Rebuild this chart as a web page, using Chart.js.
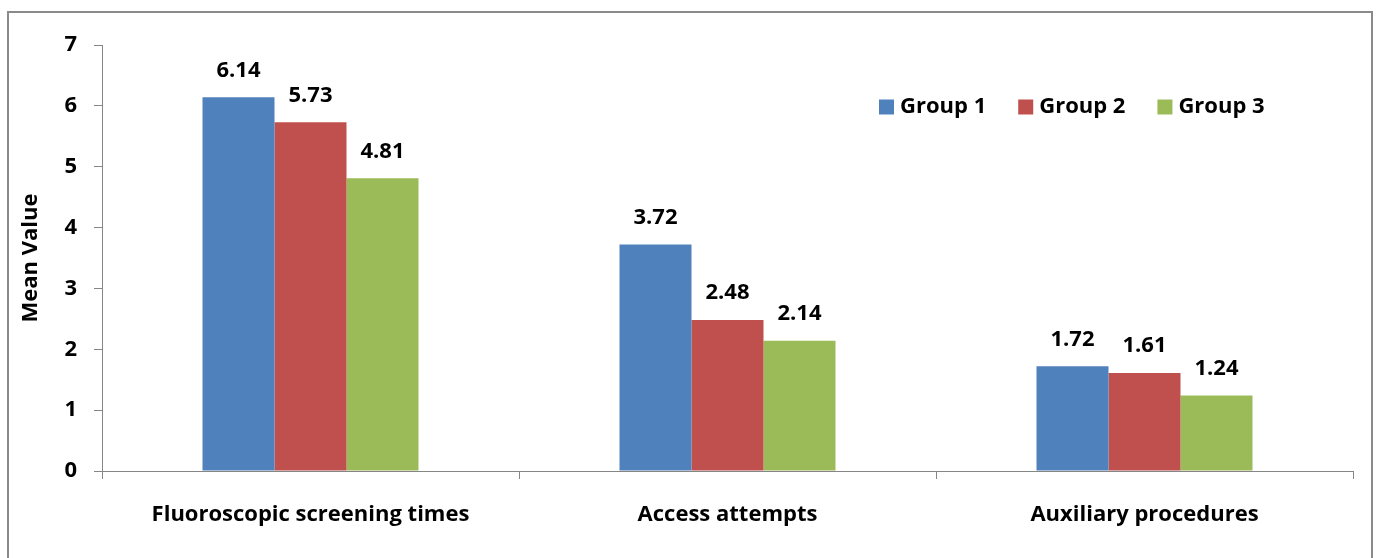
<!DOCTYPE html>
<html>
<head>
<meta charset="utf-8">
<script src="https://cdn.jsdelivr.net/npm/chart.js@4.4.1/dist/chart.umd.min.js"></script>
<style>
  html, body { margin: 0; padding: 0; background: #ffffff; }
  #wrap { width: 1379px; height: 558px; position: relative; }
</style>
</head>
<body>
<div id="wrap"><canvas id="chart" width="1379" height="558"></canvas></div>
<script>
// Mean values per measure for the three groups
const categories = ['Fluoroscopic screening times', 'Access attempts', 'Auxiliary procedures'];
const seriesNames = ['Group 1', 'Group 2', 'Group 3'];
const group1 = [6.14, 3.72, 1.72];
const group2 = [5.73, 2.48, 1.61];
const group3 = [4.81, 2.14, 1.24];
const yTicks = [0, 1, 2, 3, 4, 5, 6, 7];

const colors = ['#4F81BD', '#C0504D', '#9BBB59'];
const FONT = '"Open Sans", "Liberation Sans", sans-serif';
const FSIZE = 22;

// Outer frame around the whole chart
const framePlugin = {
  id: 'frame',
  beforeDraw(chart) {
    const ctx = chart.ctx;
    ctx.save();
    ctx.strokeStyle = '#8a8a8a';
    ctx.lineWidth = 2;
    ctx.strokeRect(8, 12, 1364, 560);
    ctx.restore();
  }
};

// Value labels above each bar
const valueLabels = {
  id: 'valueLabels',
  afterDatasetsDraw(chart) {
    const ctx = chart.ctx;
    ctx.save();
    ctx.font = 'bold ' + FSIZE + 'px ' + FONT;
    ctx.fillStyle = '#000000';
    ctx.textAlign = 'center';
    ctx.textBaseline = 'middle';
    chart.data.datasets.forEach((ds, i) => {
      const meta = chart.getDatasetMeta(i);
      meta.data.forEach((bar, j) => {
        ctx.fillText(ds.data[j].toFixed(2), bar.x, bar.y - 27);
      });
    });
    ctx.restore();
  }
};

// Legend drawn inside the plot area, upper right
const insideLegend = {
  id: 'insideLegend',
  afterDraw(chart) {
    const ctx = chart.ctx;
    const area = chart.chartArea;
    ctx.save();
    ctx.font = 'bold ' + FSIZE + 'px ' + FONT;
    ctx.textBaseline = 'middle';
    ctx.textAlign = 'left';
    const y = area.top + 62;
    let x = 879;
    const box = 15, gapText = 6, gapItem = 32;
    chart.data.datasets.forEach((ds) => {
      ctx.fillStyle = ds.backgroundColor;
      ctx.fillRect(x, y - box / 2, box, box);
      ctx.fillStyle = '#000000';
      ctx.fillText(ds.label, x + box + gapText, y);
      x += box + gapText + ctx.measureText(ds.label).width + gapItem;
    });
    ctx.restore();
  }
};

new Chart(document.getElementById('chart'), {
  type: 'bar',
  data: {
    labels: categories,
    datasets: [
      { label: seriesNames[0], data: group1, backgroundColor: colors[0] },
      { label: seriesNames[1], data: group2, backgroundColor: colors[1] },
      { label: seriesNames[2], data: group3, backgroundColor: colors[2] }
    ]
  },
  options: {
    responsive: false,
    animation: false,
    devicePixelRatio: 1,
    layout: { padding: { left: 18, right: 26, top: 45, bottom: 0 } },
    datasets: { bar: { barPercentage: 1, categoryPercentage: 0.518, borderWidth: 0 } },
    plugins: {
      legend: { display: false },
      tooltip: { enabled: false }
    },
    scales: {
      x: {
        grid: { display: true, drawOnChartArea: false, drawTicks: true, tickLength: 8, color: '#868686', offset: true },
        border: { display: true, color: '#868686', width: 1 },
        ticks: { color: '#000000', font: { family: FONT, size: FSIZE, weight: 'bold' }, padding: 23, maxRotation: 0 },
        afterFit(scale) { scale.height = 87; }
      },
      y: {
        min: 0,
        max: 7,
        afterBuildTicks(scale) { scale.ticks = yTicks.map(v => ({ value: v })); },
        grid: { display: true, drawOnChartArea: false, drawTicks: true, tickLength: 8, color: '#868686' },
        border: { display: true, color: '#868686', width: 1 },
        ticks: { color: '#000000', font: { family: FONT, size: FSIZE, weight: 'bold' }, padding: 17 },
        title: { display: true, text: 'Mean Value', color: '#000000', font: { family: FONT, size: FSIZE, weight: 'bold' }, padding: 0 },
        afterFit(scale) { scale.width = 84; }
      }
    }
  },
  plugins: [framePlugin, valueLabels, insideLegend]
});
</script>
</body>
</html>
